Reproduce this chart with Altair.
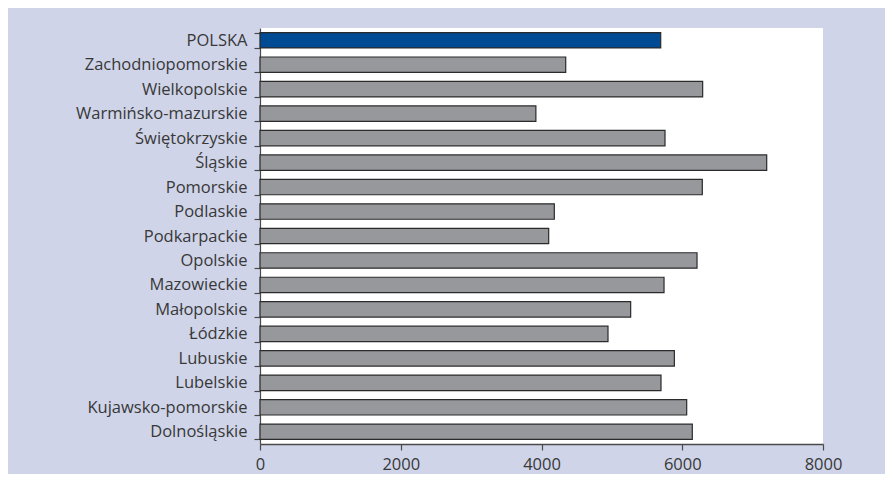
import altair as alt
import pandas as pd

regions = [
    "POLSKA", "Zachodniopomorskie", "Wielkopolskie", "Warmińsko-mazurskie",
    "Świętokrzyskie", "Śląskie", "Pomorskie", "Podlaskie", "Podkarpackie",
    "Opolskie", "Mazowieckie", "Małopolskie", "Łódzkie", "Lubuskie",
    "Lubelskie", "Kujawsko-pomorskie", "Dolnośląskie",
]
values = [
    5694, 4344, 6290, 3920,
    5755, 7200, 6285, 4182, 4102,
    6210, 5741, 5267, 4945, 5888,
    5698, 6063, 6143,
]
x_ticks = [0, 2000, 4000, 6000, 8000]

df = pd.DataFrame({"region": regions, "value": values})

FONT = "Open Sans"

chart = alt.Chart(df).mark_bar(
    stroke="#2b2b2b", strokeWidth=1.2
).encode(
    y=alt.Y(
        "region:N", sort=regions, title=None,
        scale=alt.Scale(paddingInner=0.37, paddingOuter=0.185),
        axis=alt.Axis(
            tickBand="extent", tickSize=6, labelPadding=7,
            labelFont=FONT, labelFontSize=16.5, labelColor="#383838",
            domainColor="#4a4a4a", tickColor="#4a4a4a",
            domainWidth=1.2, tickWidth=1.2, minExtent=252, maxExtent=252,
            labelLimit=400,
        ),
    ),
    x=alt.X(
        "value:Q", title=None,
        scale=alt.Scale(domain=[0, 8000], nice=False),
        axis=alt.Axis(
            values=x_ticks, format="d", grid=False, tickSize=6, labelPadding=6,
            labelFont=FONT, labelFontSize=16.5, labelColor="#383838",
            domainColor="#4a4a4a", tickColor="#4a4a4a",
            domainWidth=1.5, tickWidth=1.2, minExtent=30, maxExtent=30,
            labelFlush=False,
        ),
    ),
    color=alt.condition(
        alt.datum.region == "POLSKA",
        alt.value("#004b93"),
        alt.value("#97989c"),
    ),
).properties(
    width=877,
    height=466,
    padding={"left": 0, "top": 12, "right": 43, "bottom": 0},
    background="#cfd4e8",
    autosize=alt.AutoSizeParams(type="fit", contains="padding"),
).configure_view(
    fill="white", stroke=None
)

chart.save("out.html", embed_options={"renderer": "svg", "actions": False})
